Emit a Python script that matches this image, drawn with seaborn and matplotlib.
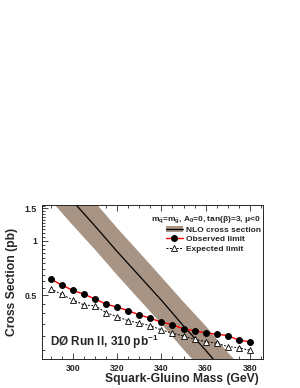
import numpy as np
import pandas as pd
import matplotlib
matplotlib.use("Agg")
import matplotlib.pyplot as plt
import seaborn as sns
from matplotlib.patches import Patch
from matplotlib.lines import Line2D
from matplotlib.ticker import FixedLocator, MultipleLocator, NullFormatter

# Limits (pb)
mass = [290, 295, 300, 305, 310, 315, 320, 325, 330, 335,
        340, 345, 350, 355, 360, 365, 370, 375, 380]
observed = [0.614, 0.569, 0.533, 0.507, 0.478, 0.447, 0.431, 0.412, 0.391, 0.375,
            0.356, 0.346, 0.327, 0.320, 0.311, 0.306, 0.301, 0.284, 0.278]
expected = [0.543, 0.506, 0.472, 0.443, 0.438, 0.402, 0.382, 0.363, 0.352, 0.341,
            0.323, 0.310, 0.299, 0.287, 0.279, 0.273, 0.262, 0.258, 0.250]

# NLO cross section with its uncertainty band
nlo_mass = [280, 290, 300, 310, 320, 330, 340, 350, 360, 370, 380, 390]
nlo_xsec = [3.05, 2.24, 1.64, 1.20, 0.87, 0.64, 0.47, 0.34, 0.25, 0.18, 0.134, 0.098]
nlo_low = [2.26, 1.66, 1.21, 0.89, 0.645, 0.474, 0.348, 0.252, 0.185, 0.133, 0.099, 0.073]
nlo_high = [4.12, 3.02, 2.21, 1.62, 1.17, 0.86, 0.63, 0.46, 0.34, 0.243, 0.181, 0.132]

limits = pd.DataFrame({"mass": mass, "observed": observed, "expected": expected})
nlo = pd.DataFrame({"mass": nlo_mass, "xsec": nlo_xsec, "low": nlo_low, "high": nlo_high})

sns.set_style("ticks")
plt.rcParams["font.family"] = ["Liberation Sans", "DejaVu Sans"]
plt.rcParams["font.weight"] = "bold"
plt.rcParams["mathtext.fontset"] = "custom"
plt.rcParams["mathtext.rm"] = "Liberation Sans:bold"
plt.rcParams["mathtext.it"] = "Liberation Sans:bold"
plt.rcParams["mathtext.bf"] = "Liberation Sans:bold"
plt.rcParams["mathtext.default"] = "rm"

band_color = "#a89484"

fig = plt.figure(figsize=(3.0, 3.88), dpi=100)
ax = fig.add_axes([0.14, 0.075, 0.737, 0.397])

ax.fill_between(nlo["mass"], nlo["low"], nlo["high"], color=band_color, lw=0, zorder=1)
sns.lineplot(data=nlo, x="mass", y="xsec", color="black", lw=0.9, ax=ax, zorder=2)
sns.lineplot(data=limits, x="mass", y="expected", color="black", lw=0.7,
             linestyle=(0, (2, 1.5)), marker="^", markersize=4, markerfacecolor="white",
             markeredgecolor="black", markeredgewidth=0.6, ax=ax, zorder=3)
sns.lineplot(data=limits, x="mass", y="observed", color="red", lw=1.0,
             marker="o", markersize=4.2, markerfacecolor="black",
             markeredgecolor="black", ax=ax, zorder=4)

ax.set_yscale("log")
ax.set_xlim(286, 386)
ax.set_ylim(0.224, 1.57)

ax.yaxis.set_major_locator(FixedLocator([0.5, 1.0, 1.5]))
ax.set_yticklabels(["0.5", "1", "1.5"])
ax.yaxis.set_minor_locator(MultipleLocator(0.05))
ax.yaxis.set_minor_formatter(NullFormatter())
ax.xaxis.set_major_locator(MultipleLocator(20))
ax.xaxis.set_minor_locator(MultipleLocator(5))

ax.tick_params(which="both", direction="in", top=True, right=False, labelsize=6.3, width=0.6)
ax.tick_params(which="major", length=4)
ax.tick_params(which="minor", length=2)
for lab in ax.get_xticklabels() + ax.get_yticklabels():
    lab.set_fontweight("bold")
for s in ax.spines.values():
    s.set_linewidth(0.7)

ax.set_xlabel("Squark-Gluino Mass (GeV)", fontsize=8.7, fontweight="bold")
ax.set_ylabel("Cross Section (pb)", fontsize=8.7, fontweight="bold", labelpad=5)
ax.xaxis.set_label_coords(0.98, -0.09, transform=ax.transAxes)
ax.xaxis.label.set_ha("right")

ax.text(0.036, 0.086, "DØ Run II, 310 pb$^{-1}$", transform=ax.transAxes,
        fontsize=8.5, fontweight="bold", va="baseline", ha="left")

ax.text(0.99, 0.897, r"m$_{\tilde{q}}$=m$_{\tilde{g}}$, A$_0$=0, tan(β)=3, μ<0",
        transform=ax.transAxes, fontsize=6.0, fontweight="bold", ha="right", va="baseline")

handles = [
    (Patch(facecolor=band_color, edgecolor="none"), Line2D([], [], color="black", lw=0.9)),
    Line2D([], [], color="red", lw=1.0, marker="o", markersize=4, markerfacecolor="black",
           markeredgecolor="black"),
    Line2D([], [], color="black", lw=0.7, linestyle=(0, (2, 1.5)), marker="^", markersize=4,
           markerfacecolor="white", markeredgecolor="black", markeredgewidth=0.6),
]
labels = ["NLO cross section", "Observed limit", "Expected limit"]
leg = ax.legend(handles, labels, loc="upper right", bbox_to_anchor=(1.0, 0.875),
                frameon=False, fontsize=6, handlelength=2.0, handletextpad=0.45,
                labelspacing=0.22, borderaxespad=0.1, borderpad=0.1)
for t in leg.get_texts():
    t.set_fontweight("bold")

fig.savefig("out.png", dpi=100)
